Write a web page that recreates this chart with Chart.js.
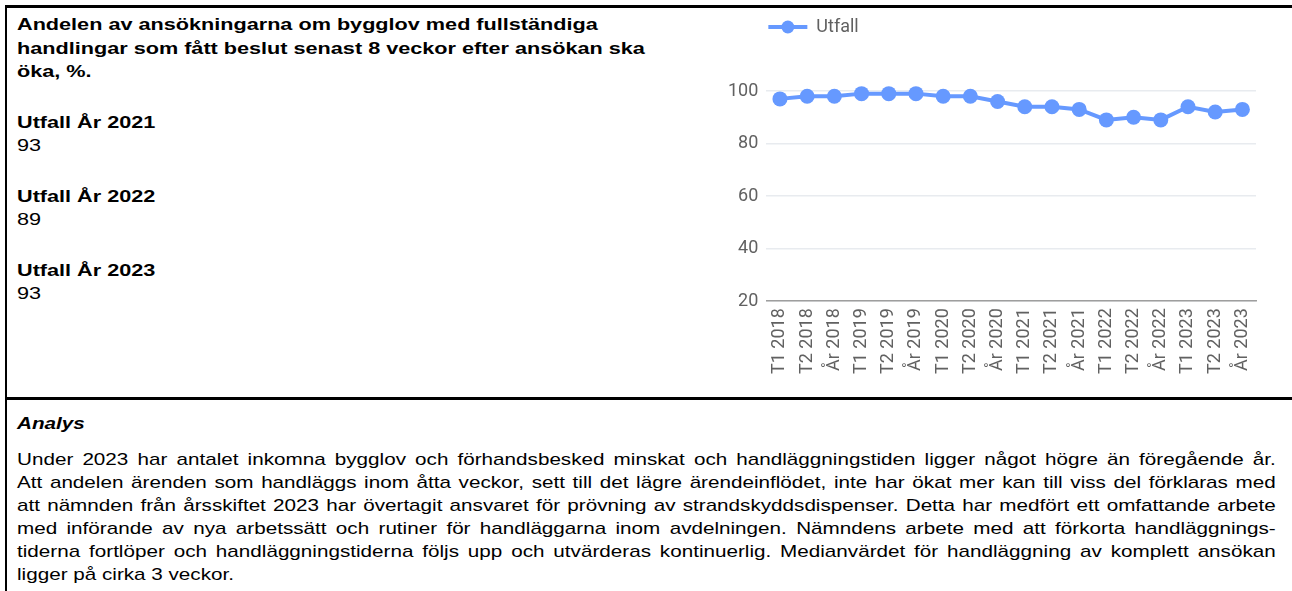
<!DOCTYPE html>
<html lang="sv">
<head>
    <meta charset="UTF-8">
    <title>Bygglov inom 8 veckor</title>
    <style>
        body {
            margin: 0;
            background: #fff;
            font-family: "Liberation Sans", Arial, sans-serif;
            color: #000;
            width: 1292px;
            height: 591px;
            overflow: hidden;
            position: relative;
        }
        .line-top { position: absolute; left: 5px; right: 0; top: 5px; height: 3px; background: #000; }
        .line-left { position: absolute; left: 5px; top: 5px; bottom: 0; width: 2px; background: #000; }
        .line-mid { position: absolute; left: 5px; right: 0; top: 397px; height: 3px; background: #000; }
        /* the source text is set wide, so stretch it sideways */
        .wide {
            position: absolute;
            left: 17px;
            font-size: 17px;
            transform-origin: 0 0;
        }
        .info { top: 13px; line-height: 23.5px; transform: scaleX(1.273); }
        .info b { display: block; }
        .info .blk { margin-top: 27px; }
        .info .title { font-weight: bold; white-space: nowrap; }
        .analys { top: 412px; line-height: 23px; white-space: nowrap; transform: scaleX(1.215); }
        .analys .head { font-weight: bold; font-style: italic; margin-bottom: 13px; }
        .analys .row {
            width: 1036px;
            text-align: justify;
            text-align-last: justify;
        }
        .analys .row.last { text-align-last: left; }
        .chart-box {
            position: absolute;
            left: 700px;
            top: 10px;
            width: 590px;
            height: 380px;
        }
    </style>
</head>
<body>
    <div class="line-top"></div>
    <div class="line-left"></div>
    <div class="line-mid"></div>

    <div class="wide info">
        <div class="title">Andelen av ansökningarna om bygglov med fullständiga<br>handlingar som fått beslut senast 8 veckor efter ansökan ska<br>öka, %.</div>
        <div class="blk"><b>Utfall År 2021</b>93</div>
        <div class="blk"><b>Utfall År 2022</b>89</div>
        <div class="blk"><b>Utfall År 2023</b>93</div>
    </div>

    <div class="chart-box">
        <canvas id="chart"></canvas>
    </div>

    <div class="wide analys">
        <div class="head">Analys</div>
        <div class="row">Under 2023 har antalet inkomna bygglov och förhandsbesked minskat och handläggningstiden ligger något högre än föregående år.</div>
        <div class="row">Att andelen ärenden som handläggs inom åtta veckor, sett till det lägre ärendeinflödet, inte har ökat mer kan till viss del förklaras med</div>
        <div class="row">att nämnden från årsskiftet 2023 har övertagit ansvaret för prövning av strandskyddsdispenser. Detta har medfört ett omfattande arbete</div>
        <div class="row">med införande av nya arbetssätt och rutiner för handläggarna inom avdelningen. Nämndens arbete med att förkorta handläggnings-</div>
        <div class="row">tiderna fortlöper och handläggningstiderna följs upp och utvärderas kontinuerlig. Medianvärdet för handläggning av komplett ansökan</div>
        <div class="row last">ligger på cirka 3 veckor.</div>
    </div>

    <script src="https://cdn.jsdelivr.net/npm/chart.js"></script>
    <script>
        // periods shown on the x axis
        const periods = [
            'T1 2018', 'T2 2018', 'År 2018',
            'T1 2019', 'T2 2019', 'År 2019',
            'T1 2020', 'T2 2020', 'År 2020',
            'T1 2021', 'T2 2021', 'År 2021',
            'T1 2022', 'T2 2022', 'År 2022',
            'T1 2023', 'T2 2023', 'År 2023'
        ];
        const utfall = [97, 98, 98, 99, 99, 99, 98, 98, 96, 94, 94, 93, 89, 90, 89, 94, 92, 93];
        const yTicks = [20, 40, 60, 80, 100];

        const blue = '#6699ff';

        // legend drawn as line + dot like the original
        const lineLegend = {
            id: 'lineLegend',
            afterDraw(chart) {
                const c = chart.ctx;
                const ds = chart.data.datasets[0];
                const x = chart.chartArea.left + 2;
                const y = 17;
                c.save();
                c.strokeStyle = ds.borderColor;
                c.lineWidth = 4;
                c.beginPath();
                c.moveTo(x, y);
                c.lineTo(x + 39, y);
                c.stroke();
                c.fillStyle = ds.borderColor;
                c.beginPath();
                c.arc(x + 19.5, y, 6.5, 0, Math.PI * 2);
                c.fill();
                c.fillStyle = '#616161';
                c.font = '18px Roboto';
                c.textBaseline = 'middle';
                c.fillText(ds.label, x + 48, y);
                c.restore();
            }
        };

        const ctx = document.getElementById('chart').getContext('2d');
        const chart = new Chart(ctx, {
            type: 'line',
            data: {
                labels: periods,
                datasets: [{
                    label: 'Utfall',
                    data: utfall,
                    borderColor: blue,
                    backgroundColor: blue,
                    borderWidth: 4,
                    pointRadius: 7.5,
                    pointHoverRadius: 7.5,
                    pointBorderWidth: 0,
                    tension: 0,
                    clip: false
                }]
            },
            options: {
                responsive: true,
                maintainAspectRatio: false,
                animation: false,
                layout: { padding: { left: 20, right: 34, top: 81, bottom: 9 } },
                plugins: {
                    legend: { display: false },
                    tooltip: { enabled: false }
                },
                scales: {
                    x: {
                        offset: true,
                        grid: { display: false, drawTicks: false },
                        border: { display: true, color: '#9e9e9e', width: 1.5 },
                        ticks: {
                            color: '#616161',
                            font: { family: 'Roboto', size: 18 },
                            minRotation: 90,
                            maxRotation: 90,
                            padding: 7,
                            autoSkip: false
                        }
                    },
                    y: {
                        min: 20,
                        max: 100,
                        afterBuildTicks: (axis) => { axis.ticks = yTicks.map(v => ({ value: v })); },
                        grid: { color: '#e8ebef', lineWidth: 1.5, drawTicks: false },
                        border: { display: false },
                        ticks: {
                            color: '#616161',
                            font: { family: 'Roboto', size: 18 },
                            padding: 8
                        }
                    }
                }
            },
            plugins: [lineLegend]
        });
    </script>
</body>
</html>
